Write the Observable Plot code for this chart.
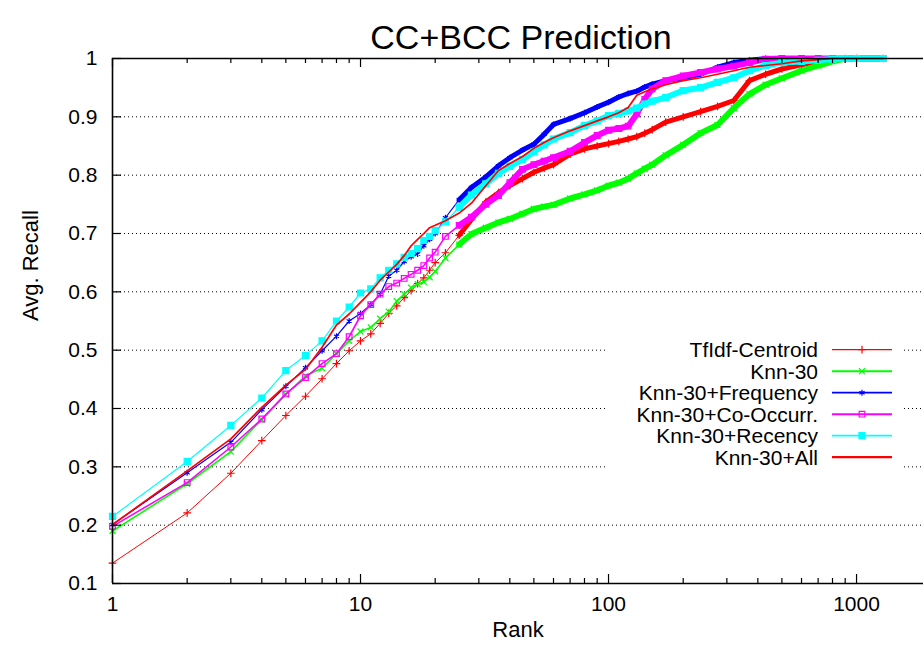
<!DOCTYPE html>
<html>
<head>
<meta charset="utf-8">
<script src="https://cdn.jsdelivr.net/npm/d3@7"></script>
<script src="https://cdn.jsdelivr.net/npm/@observablehq/plot@0.6"></script>
<style>
html, body { margin: 0; padding: 0; background: #fff; overflow: hidden; }
</style>
</head>
<body>
<div id="chart"></div>
<script>
// ---------- data ----------
const ranks = [1,2,3,4,5,6,7,8,9,10,11,12,13,14,15,16,17,18,19,20,
  22,25,28,32,36,40,45,50,55,60,70,80,90,100,110,120,130,140,150,170,
  200,235,275,320,370,430,500,600,700,800,900,1000,1280];

const tfidfCentroid = [0.135,0.221,0.289,0.345,0.388,0.421,0.451,0.477,0.499,0.516,
  0.528,0.546,0.563,0.576,0.590,0.602,0.614,0.624,0.637,0.650,
  0.667,0.697,0.724,0.754,0.770,0.782,0.794,0.805,0.812,0.818,
  0.836,0.845,0.850,0.854,0.858,0.862,0.866,0.872,0.878,0.891,
  0.900,0.909,0.918,0.928,0.962,0.973,0.982,0.989,0.995,0.999,
  1.0,1.0,1.0];

const knn30 = [0.190,0.271,0.326,0.381,0.424,0.456,0.469,0.494,0.516,0.532,
  0.539,0.554,0.566,0.584,0.596,0.607,0.613,0.617,0.625,0.635,
  0.658,0.681,0.699,0.710,0.719,0.725,0.734,0.742,0.746,0.749,
  0.760,0.767,0.774,0.782,0.787,0.794,0.803,0.811,0.818,0.834,
  0.852,0.872,0.886,0.915,0.939,0.955,0.966,0.979,0.988,0.995,
  1.0,1.0,1.0];

const knn30Frequency = [0.201,0.290,0.342,0.398,0.438,0.470,0.499,0.524,0.550,0.563,
  0.578,0.596,0.627,0.637,0.652,0.660,0.665,0.679,0.690,0.700,
  0.727,0.758,0.779,0.797,0.816,0.830,0.843,0.853,0.870,0.887,
  0.897,0.907,0.917,0.925,0.934,0.940,0.944,0.951,0.956,0.962,
  0.967,0.973,0.985,0.993,0.997,1.0,1.0,1.0,1.0,1.0,
  1.0,1.0,1.0];

const knn30CoOccurr = [0.198,0.273,0.334,0.382,0.425,0.453,0.477,0.494,0.523,0.559,
  0.578,0.596,0.609,0.615,0.623,0.630,0.637,0.645,0.658,0.668,
  0.695,0.714,0.728,0.750,0.765,0.787,0.810,0.818,0.824,0.830,
  0.841,0.856,0.868,0.877,0.880,0.884,0.905,0.930,0.948,0.962,
  0.970,0.976,0.982,0.987,0.993,0.999,1.0,1.0,1.0,1.0,
  1.0,1.0,1.0];

const knn30Recency = [0.215,0.309,0.371,0.418,0.465,0.491,0.516,0.550,0.574,0.598,
  0.605,0.624,0.637,0.648,0.659,0.666,0.674,0.688,0.695,0.705,
  0.720,0.745,0.766,0.785,0.803,0.815,0.827,0.840,0.852,0.862,
  0.873,0.885,0.893,0.902,0.906,0.910,0.915,0.922,0.927,0.933,
  0.945,0.950,0.959,0.967,0.979,0.988,0.993,0.995,0.997,0.999,
  1.0,1.0,1.0];

const knn30All = [0.201,0.293,0.348,0.402,0.440,0.467,0.505,0.543,0.562,0.582,
  0.600,0.620,0.634,0.647,0.662,0.679,0.690,0.700,0.710,0.714,
  0.722,0.735,0.752,0.782,0.808,0.820,0.832,0.846,0.856,0.864,
  0.876,0.885,0.893,0.900,0.907,0.916,0.937,0.943,0.948,0.955,
  0.962,0.967,0.973,0.979,0.985,0.988,0.991,0.996,0.998,1.0,
  1.0,1.0,1.0];

const seriesNames = ["TfIdf-Centroid","Knn-30","Knn-30+Frequency","Knn-30+Co-Occurr.","Knn-30+Recency","Knn-30+All"];
const seriesColors = ["#ff0000","#00ff00","#0000ff","#ff00ff","#00ffff","#ff0000"];

const yTicks = [0.1,0.2,0.3,0.4,0.5,0.6,0.7,0.8,0.9,1];
const yGrid = [0.2,0.3,0.4,0.5,0.6,0.7,0.8,0.9];
const xMajorTicks = [1,10,100,1000];
const xMinorTicks = [2,3,4,5,6,7,8,9,20,30,40,50,60,70,80,90,200,300,400,500,600,700,800,900];

const titleText = "CC+BCC Prediction";
const xLabel = "Rank";
const yLabel = "Avg. Recall";

// ---------- styling ----------
const W = 923, H = 654;
const mL = 112, mT = 58, mB = 71, mR = 0;
const frameW = W - mL - mR, frameH = H - mT - mB;
const FONT = "'Liberation Sans', Arial, Helvetica, sans-serif";

const styles = [
  {width: 1,   band: 5, symbol: "plus",     filled: false, r: 2.6},
  {width: 1.6, band: 6, symbol: "times",    filled: false, r: 2.8},
  {width: 1.2, band: 5, symbol: "asterisk", filled: false, r: 2.8},
  {width: 1.6, band: 6, symbol: "square",   filled: false, r: 3.2},
  {width: 1.2, band: 6, symbol: "square",   filled: true,  r: 3.4},
  {width: 1.7, band: 0, symbol: null,       filled: false, r: 0}
];
const valueSets = [tfidfCentroid, knn30, knn30Frequency, knn30CoOccurr, knn30Recency, knn30All];

const series = seriesNames.map((name, k) => ({
  name, color: seriesColors[k], ...styles[k],
  rows: ranks.map((rank, i) => ({rank, value: valueSets[k][i]}))
}));

const d3Symbols = {plus: d3.symbolPlus, times: d3.symbolTimes, asterisk: d3.symbolAsterisk, square: d3.symbolSquare};

function legendMark(index, scales, values, dims) {
  const g = d3.create("svg:g").attr("font-family", FONT).attr("font-size", 21);
  const right = dims.width - 105;
  const y0 = scales.y(0.5);
  const step = 21.5;
  g.append("rect")
    .attr("x", right - 212).attr("y", y0 - 12)
    .attr("width", 297).attr("height", step * 5 + 24)
    .attr("fill", "#fff");
  series.forEach((s, i) => {
    const y = y0 + i * step;
    g.append("text").attr("x", right).attr("y", y).attr("dy", "0.36em")
      .attr("text-anchor", "end").attr("fill", "#000").text(s.name);
    g.append("line").attr("x1", right + 14).attr("x2", right + 74)
      .attr("y1", y).attr("y2", y).attr("stroke", s.color).attr("stroke-width", s.width + 0.4);
    if (s.symbol) {
      g.append("path")
        .attr("transform", `translate(${right + 44},${y})`)
        .attr("d", d3.symbol(d3Symbols[s.symbol], s.r * s.r * Math.PI)())
        .attr("fill", s.filled ? s.color : "none")
        .attr("stroke", s.color).attr("stroke-width", 1.2);
    }
  });
  return g.node();
}

const marks = [
  Plot.ruleY(yGrid, {stroke: "#000", strokeDasharray: "1,3", strokeWidth: 1})
];

series.forEach(s => {
  if (s.band > 0) {
    marks.push(Plot.line(s.rows.filter(d => d.rank >= 25), {
      x: "rank", y: "value", stroke: s.color, strokeWidth: s.band,
      strokeLinejoin: "round", strokeLinecap: "round"}));
  }
  marks.push(Plot.line(s.rows, {x: "rank", y: "value", stroke: s.color, strokeWidth: s.width}));
  if (s.symbol) {
    marks.push(Plot.dot(s.rows, {
      x: "rank", y: "value", symbol: () => s.symbol, r: s.r,
      stroke: s.color, strokeWidth: 1.2,
      fill: s.filled ? s.color : "none"
    }));
  }
});

marks.push(
  legendMark,
  // inward ticks (gnuplot style)
  Plot.tickX(xMajorTicks, {x: d => d, insetTop: frameH - 9, stroke: "#000", strokeWidth: 1.2}),
  Plot.tickX(xMajorTicks, {x: d => d, insetBottom: frameH - 9, stroke: "#000", strokeWidth: 1.2}),
  Plot.tickX(xMinorTicks, {x: d => d, insetTop: frameH - 5, stroke: "#000", strokeWidth: 1.2}),
  Plot.tickX(xMinorTicks, {x: d => d, insetBottom: frameH - 5, stroke: "#000", strokeWidth: 1.2}),
  Plot.tickY(yTicks, {y: d => d, insetRight: frameW - 9, stroke: "#000", strokeWidth: 1.2}),
  // border
  Plot.ruleY([0.1, 1], {stroke: "#000", strokeWidth: 1.6}),
  Plot.ruleX([1], {stroke: "#000", strokeWidth: 1.6}),
  // axes labels
  Plot.axisY(yTicks, {tickSize: 0, tickPadding: 15, fontSize: 21, label: null,
    tickFormat: d => d === 1 ? "1" : d.toFixed(1)}),
  Plot.axisX(xMajorTicks, {tickSize: 0, tickPadding: 13, fontSize: 21, label: null,
    tickFormat: d => String(d)}),
  Plot.text([titleText], {text: d => d, frameAnchor: "top", dy: -34, dx: 3, fontSize: 34, fill: "#000"}),
  Plot.text([xLabel], {text: d => d, frameAnchor: "bottom", dy: 53, fontSize: 22, fill: "#000"}),
  Plot.text([yLabel], {text: d => d, frameAnchor: "left", dx: -82, rotate: -90, fontSize: 22, fill: "#000"})
);

const chart = Plot.plot({
  width: W, height: H,
  marginLeft: mL, marginRight: mR, marginTop: mT, marginBottom: mB,
  style: {fontFamily: FONT, fontSize: "21px", background: "#fff", color: "#000", overflow: "visible"},
  x: {type: "log", domain: [1, 1862]},
  y: {domain: [0.1, 1]},
  marks
});
document.getElementById("chart").appendChild(chart);
</script>
</body>
</html>
